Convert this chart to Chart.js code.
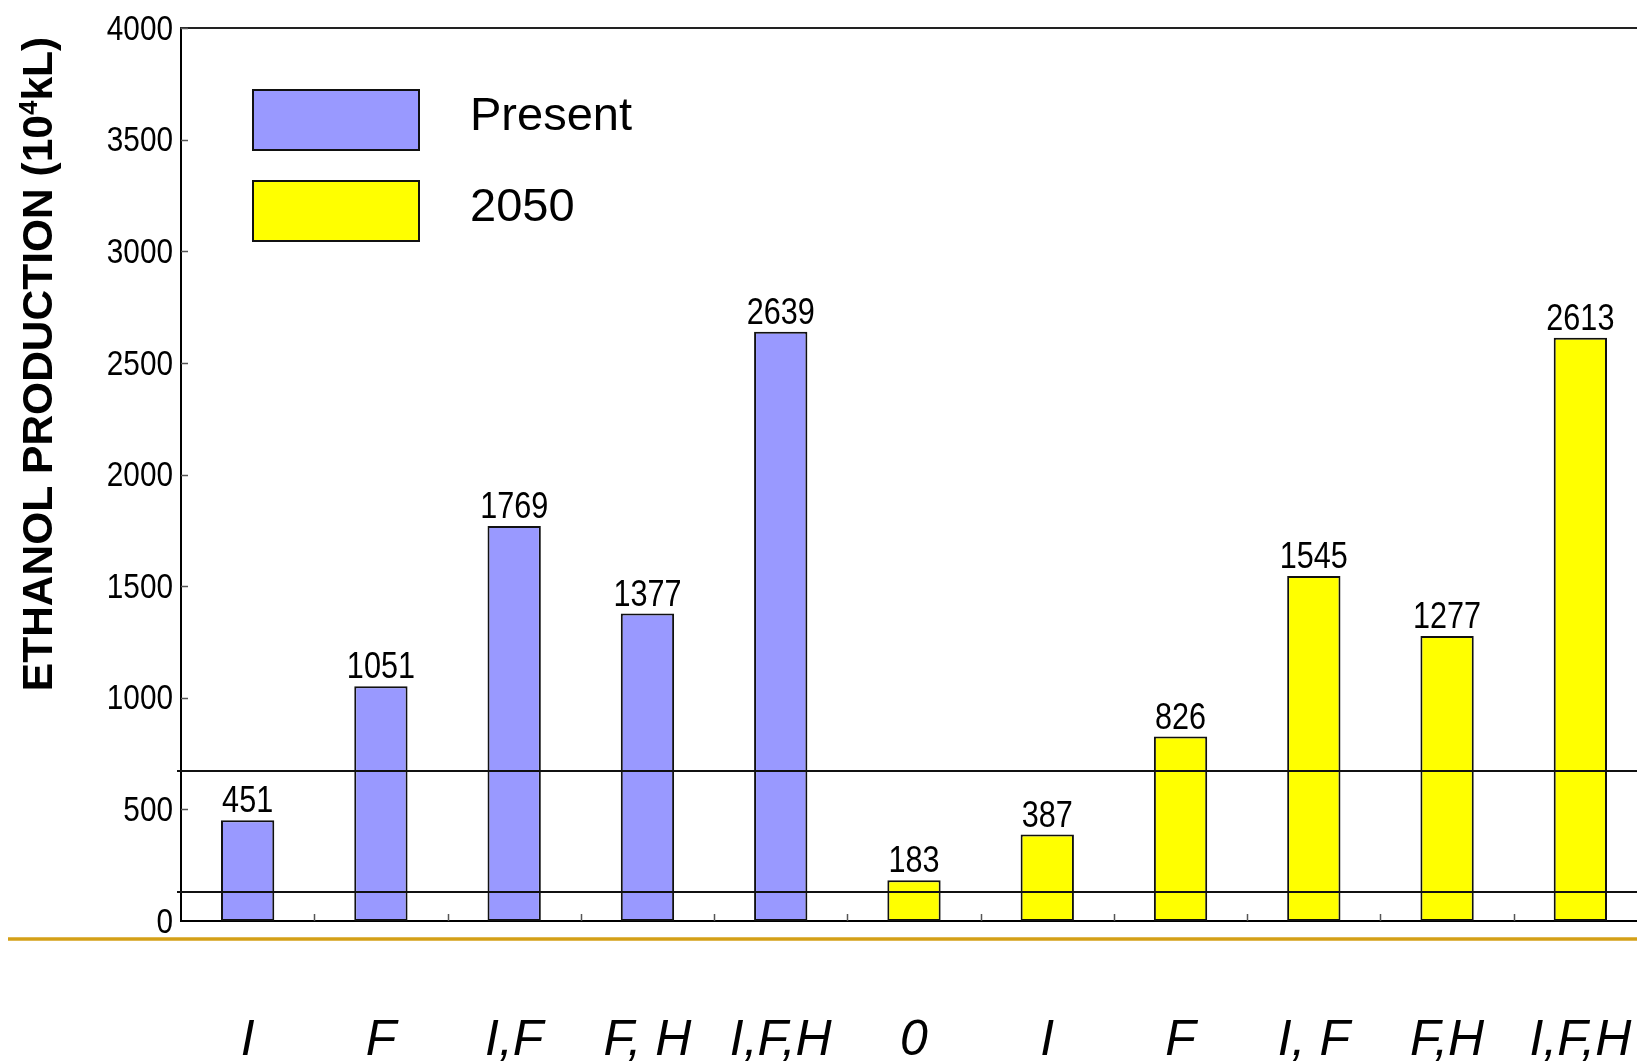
<!DOCTYPE html>
<html>
<head>
<meta charset="utf-8">
<script src="https://cdn.jsdelivr.net/npm/chart.js@4.4.1/dist/chart.umd.min.js"></script>
<style>
  html, body { margin: 0; padding: 0; background: #fff; overflow: hidden; }
  #wrap { position: relative; width: 1660px; height: 1061px; }
</style>
</head>
<body>
<div id="wrap"><canvas id="c" width="1660" height="1061"></canvas></div>
<script>
// Scenario labels along the x axis
const categories = ['I', 'F', 'I,F', 'F, H', 'I,F,H', '0', 'I', 'F', 'I, F', 'F,H', 'I,F,H'];
// Ethanol production (10^4 kL)
const presentValues = [451, 1051, 1769, 1377, 2639, null, null, null, null, null, null];
const values2050    = [null, null, null, null, null, 183, 387, 826, 1545, 1277, 2613];
const seriesNames = ['Present', '2050'];
// Horizontal reference levels (10^4 kL)
const referenceLevels = [671, 130];
// Y axis range
const yMin = 0, yMax = 4000, yStep = 500;

const SANS = "'Liberation Sans', Arial, sans-serif";
const COLORS = ['#9999ff', '#ffff00'];
const NARROW_SCALE = 0.85;

// draws horizontally condensed text
function narrowText(ctx, text, x, y, align, size) {
  ctx.save();
  ctx.font = size + 'px ' + SANS;
  ctx.textAlign = align;
  ctx.translate(x, y);
  ctx.scale(NARROW_SCALE, 1);
  ctx.fillText(text, 0, 0);
  ctx.restore();
}

const decorations = {
  id: 'decorations',
  afterDatasetsDraw(chart) {
    const ctx = chart.ctx;
    const { left, top, bottom } = chart.chartArea;
    const xs = chart.scales.x, ys = chart.scales.y;
    const W = chart.width;
    ctx.save();

    // top frame line
    ctx.strokeStyle = '#222';
    ctx.lineWidth = 2;
    ctx.beginPath();
    ctx.moveTo(left - 1, top);
    ctx.lineTo(W, top);
    ctx.stroke();

    // y tick labels (condensed) and inward tick marks
    ys.ticks.forEach(t => {
      const y = ys.getPixelForValue(t.value);
      ctx.fillStyle = '#000';
      ctx.textBaseline = 'middle';
      narrowText(ctx, String(t.value), left - 8, y + 2, 'right', 35);
      if (t.value === yMin) return;
      ctx.strokeStyle = '#555';
      ctx.lineWidth = 1.5;
      const yy = Math.round(y) + 0.5;
      ctx.beginPath();
      ctx.moveTo(left, yy);
      ctx.lineTo(left + 7, yy);
      ctx.stroke();
    });
    // inward ticks between categories on the x axis
    ctx.strokeStyle = '#555';
    ctx.lineWidth = 1.5;
    for (let i = 1; i < categories.length; i++) {
      const x = Math.round((xs.getPixelForValue(i - 1) + xs.getPixelForValue(i)) / 2) + 0.5;
      ctx.beginPath();
      ctx.moveTo(x, bottom);
      ctx.lineTo(x, bottom - 7);
      ctx.stroke();
    }

    // horizontal reference levels, drawn across the bars
    ctx.strokeStyle = '#111';
    ctx.lineWidth = 2;
    referenceLevels.forEach(v => {
      const y = Math.round(ys.getPixelForValue(v));
      ctx.beginPath();
      ctx.moveTo(left - 4, y);
      ctx.lineTo(W, y);
      ctx.stroke();
    });

    // gold rule under the axis
    ctx.strokeStyle = '#d4a017';
    ctx.lineWidth = 3.5;
    ctx.beginPath();
    ctx.moveTo(8, bottom + 18);
    ctx.lineTo(W, bottom + 18);
    ctx.stroke();

    // value labels above bars
    ctx.fillStyle = '#000';
    ctx.textBaseline = 'alphabetic';
    chart.data.datasets.forEach((ds, di) => {
      const meta = chart.getDatasetMeta(di);
      meta.data.forEach((bar, i) => {
        const v = ds.data[i];
        if (v === null || v === undefined) return;
        narrowText(ctx, String(v), bar.x, bar.y - 8, 'center', 36);
      });
    });

    // legend
    chart.data.datasets.forEach((ds, di) => {
      const bx = left + 72, by = top + 62 + di * 91;
      ctx.fillStyle = ds.backgroundColor;
      ctx.fillRect(bx, by, 166, 60);
      ctx.strokeStyle = '#111';
      ctx.lineWidth = 2;
      ctx.strokeRect(bx, by, 166, 60);
      ctx.fillStyle = '#000';
      ctx.font = '47px ' + SANS;
      ctx.textAlign = 'left';
      ctx.textBaseline = 'alphabetic';
      ctx.fillText(ds.label, bx + 217, by + 40);
    });

    // y-axis title with superscript exponent
    const tx = left - 144, ty = top + 336;
    ctx.translate(tx, ty);
    ctx.rotate(-Math.PI / 2);
    ctx.fillStyle = '#000';
    const partA = 'ETHANOL PRODUCTION (10', sup = '4', partB = 'kL)';
    const mainFont = 'bold 42.5px ' + SANS, supFont = 'bold 26px ' + SANS;
    ctx.font = mainFont; const wA = ctx.measureText(partA).width, wB = ctx.measureText(partB).width;
    ctx.font = supFont; const wS = ctx.measureText(sup).width;
    const total = wA + wS + wB;
    let x0 = -total / 2;
    const base = 15;
    ctx.textAlign = 'left';
    ctx.font = mainFont; ctx.fillText(partA, x0, base); x0 += wA;
    ctx.font = supFont; ctx.fillText(sup, x0, base - 15); x0 += wS;
    ctx.font = mainFont; ctx.fillText(partB, x0, base);

    ctx.restore();
  }
};

new Chart(document.getElementById('c'), {
  type: 'bar',
  data: {
    labels: categories,
    datasets: [
      { label: seriesNames[0], data: presentValues, backgroundColor: COLORS[0] },
      { label: seriesNames[1], data: values2050, backgroundColor: COLORS[1] }
    ]
  },
  options: {
    responsive: false,
    animation: false,
    devicePixelRatio: 1,
    layout: { padding: { top: 28, right: 13, left: 0, bottom: 0 } },
    datasets: {
      bar: {
        grouped: false,
        barPercentage: 0.4,
        categoryPercentage: 1.0,
        borderColor: '#111',
        borderWidth: 2,
        borderSkipped: false
      }
    },
    plugins: {
      legend: { display: false },
      tooltip: { enabled: false },
      title: { display: false }
    },
    scales: {
      x: {
        grid: { display: false, drawTicks: true, tickLength: 82 },
        border: { display: true, color: '#000', width: 2 },
        ticks: {
          color: '#000',
          font: { family: SANS, size: 50, style: 'italic' },
          padding: 8,
          maxRotation: 0,
          autoSkip: false
        },
        afterFit(scale) { scale.height = 140; }
      },
      y: {
        min: yMin,
        max: yMax,
        grid: { display: false, drawTicks: false },
        border: { display: true, color: '#000', width: 2 },
        ticks: { stepSize: yStep, display: false },
        afterFit(scale) { scale.width = 181; }
      }
    }
  },
  plugins: [decorations]
});
</script>
</body>
</html>
